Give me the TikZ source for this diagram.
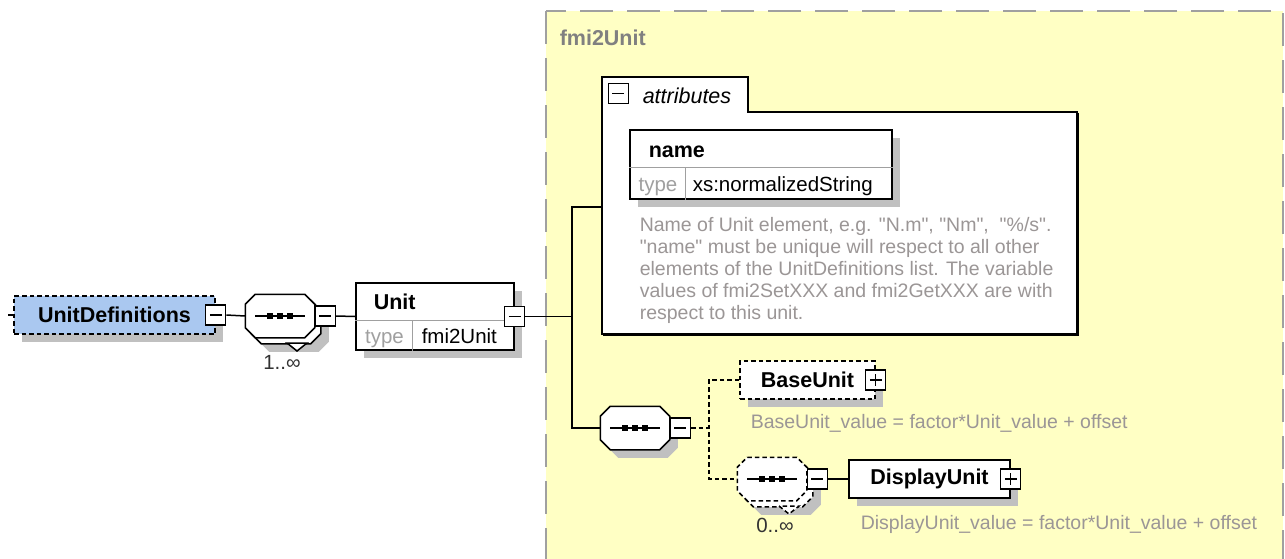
\documentclass[tikz,border=0pt]{standalone}
\usepackage{fontspec}
\setmainfont{Liberation Sans}[Ligatures=TeXOff]
\usepackage{tikz}
\usetikzlibrary{calc,shadows}

\definecolor{ybg}{RGB}{255,255,196}
\definecolor{udblue}{RGB}{170,200,240}
\definecolor{shadowgray}{RGB}{192,192,192}
\definecolor{docgray}{RGB}{155,150,150}
\definecolor{lblgray}{RGB}{128,128,128}
\definecolor{boxgray}{RGB}{160,160,160}

\newcommand{\elemfont}{\fontsize{21.5}{24}\selectfont\bfseries}
\newcommand{\typefont}{\fontsize{20.5}{23}\selectfont}
\newcommand{\docfont}{\fontsize{19.5}{22}\selectfont}

% compositor outline round a node
\newcommand{\octo}[2][]{%
  \draw[fill=white,#1] ($(#2.north west)+(10,0)$) -- ($(#2.north east)+(-10,0)$)
    -- ($(#2.north east)+(0,10)$) -- ($(#2.south east)+(0,-10)$)
    -- ($(#2.south east)+(-10,0)$) -- ($(#2.south west)+(10,0)$)
    -- ($(#2.south west)+(0,-10)$) -- ($(#2.north west)+(0,10)$) -- cycle;}
\newcommand{\seqdots}[1]{%
  \draw ($(#1.center)+(-25,0)$) -- ($(#1.center)+(25,0)$);
  \fill ($(#1.center)+(-13,-3)$) rectangle +(6,6);
  \fill ($(#1.center)+(-3,-3)$) rectangle +(6,6);
  \fill ($(#1.center)+(7,-3)$) rectangle +(6,6);}

\begin{document}
\begin{tikzpicture}[x=1pt,y=-1pt,line width=1.5pt,
    shadowed/.style={drop shadow={shadow xshift=8pt,shadow yshift=-8pt,fill=shadowgray,opacity=1}},
    dashes/.style={dash pattern=on 4.5pt off 3pt},
    elembox/.style={draw,fill=white,shadowed,minimum height=38pt,inner sep=0pt},
    seqpos/.style={minimum width=68pt,minimum height=42pt,inner sep=0pt},
    minusbox/.style={draw,solid,fill=white,minimum size=20pt,inner sep=0pt,line width=1.3pt,
      path picture={\draw[solid] ($(path picture bounding box.west)+(4,0)$) -- ($(path picture bounding box.east)+(-4,0)$);}},
    plusbox/.style={minusbox,
      path picture={\draw[solid] ($(path picture bounding box.west)+(4,0)$) -- ($(path picture bounding box.east)+(-4,0)$);
        \draw[solid] ($(path picture bounding box.north)+(0,4)$) -- ($(path picture bounding box.south)+(0,-4)$);}},
    doc/.style={font=\docfont,text=docgray,inner sep=0pt}
  ]
  \useasboundingbox[fill=white] (0,0) rectangle (1285,558);

  % complex type area
  \draw[boxgray,line width=2pt,dash pattern=on 33pt off 14pt,fill=ybg] (546,11) rectangle (1283,600);
  \node[anchor=base west,font=\elemfont,text=lblgray,inner sep=0pt] (typelbl) at (559,45) {fmi2Unit};

  % attributes
  \draw[fill=white] (602,77) -- (748,77) -- (748,112) -- (1077,112) -- (1077,334) -- (602,334) -- cycle;
  \draw[line width=1pt] (1078.5,113) -- (1078.5,335.5) -- (603,335.5);
  \node[minusbox,line width=1pt] (attrm) at (618,93) {};
  \node[anchor=base west,font=\fontsize{21.5}{24}\selectfont\itshape,inner sep=0pt] (attrlbl) at (642,103) {attributes};
  \coordinate (attrin) at (602,207);

  \node[elembox,minimum width=262pt,minimum height=69pt] (name) at (761,164.5) {};
  \draw[boxgray,line width=1pt] ($(name.north west)+(0,38)$) -- ($(name.north east)+(0,38)$);
  \draw[boxgray,line width=1pt] ($(name.north west)+(56,38)$) -- ($(name.south west)+(56,0)$);
  \node[anchor=base west,font=\elemfont,inner sep=0pt] (namelbl) at (648,157) {name};
  \node[anchor=base,font=\typefont,text=boxgray,inner sep=0pt] (nametyp) at (658,191) {type};
  \node[anchor=base west,font=\typefont,inner sep=0pt] (nameval) at (692,191) {xs:normalizedString};
  \node[doc,anchor=north west,align=left] (namedoc) at (639,217)
    {Name of Unit element, e.g. "N.m", "Nm",\ \ "\%/s".\\
     "name" must be unique will respect to all other\\
     elements of the UnitDefinitions list. The variable\\
     values of fmi2SetXXX and fmi2GetXXX are with\\
     respect to this unit.};

  % main row
  \coordinate (udin) at (8,315);
  \node[elembox,dashes,fill=udblue,minimum width=201pt,font=\elemfont] (ud) at (114.5,315) {UnitDefinitions};
  \node[minusbox] (udm) at (ud.east) {};

  \node[seqpos] (seq1b) at (286,322) {};
  \node[seqpos] (seq1) at (280,316) {};
  \octo[shadowed]{seq1b}
  \octo{seq1}
  \seqdots{seq1}
  \draw[fill=white] ($(seq1)+(7,27)$) -- ($(seq1)+(17,35)$) -- ($(seq1)+(27,27)$) -- cycle;
  \node[minusbox,anchor=west] (seq1m) at (seq1.east) {};
  \node[font=\typefont,text=black!80] (seq1card) at (282,362) {1..∞};

  \node[elembox,minimum width=158pt,minimum height=67pt] (unit) at (435,316.5) {};
  \draw[boxgray,line width=1pt] ($(unit.north west)+(0,38)$) -- ($(unit.north east)+(0,38)$);
  \draw[boxgray,line width=1pt] ($(unit.north west)+(57,38)$) -- ($(unit.south west)+(57,0)$);
  \node[anchor=base west,font=\elemfont,inner sep=0pt] (unitlbl) at (373,309) {Unit};
  \node[anchor=base,font=\typefont,text=boxgray,inner sep=0pt] (unittyp) at (384.5,343) {type};
  \node[anchor=base west,font=\typefont,inner sep=0pt] (unitval) at (421,343) {fmi2Unit};
  \node[minusbox] (unitm) at (unit.east) {};

  % content model
  \coordinate (jtop) at (572,207);
  \coordinate (jbot) at (572,428);
  \node[seqpos] (seq2) at (635,428) {};
  \octo[shadowed]{seq2}
  \seqdots{seq2}
  \node[minusbox,anchor=west] (seq2m) at (seq2.east) {};
  \coordinate (jdtop) at (709,380);
  \coordinate (jdbot) at (709,479);

  \node[elembox,dashes,minimum width=135pt,font=\elemfont] (bu) at (807.5,380) {BaseUnit};
  \node[plusbox] (bum) at (bu.east) {};
  \node[doc,anchor=base west] (budoc) at (750,428) {BaseUnit\_value = factor*Unit\_value + offset};

  \node[seqpos] (seq3b) at (778,485) {};
  \node[seqpos] (seq3) at (772,479) {};
  \octo[shadowed,dashes]{seq3b}
  \octo[dashes]{seq3}
  \seqdots{seq3}
  \draw[dashes,fill=white] ($(seq3)+(7,27)$) -- ($(seq3)+(17,35)$) -- ($(seq3)+(27,27)$) -- cycle;
  \node[minusbox,anchor=west] (seq3m) at (seq3.east) {};
  \node[font=\typefont,text=black!80] (seq3card) at (775,525) {0..∞};

  \node[elembox,minimum width=161pt,font=\elemfont] (du) at (929.5,479) {DisplayUnit};
  \node[plusbox] (dum) at (du.east) {};
  \node[doc,anchor=base west] (dudoc) at (860,529) {DisplayUnit\_value = factor*Unit\_value + offset};

  % connectors
  \draw (udin) -- (ud.west);
  \draw (udm.east) -- (seq1.west);
  \draw (seq1m.east) -- (unit.west);
  \draw (unitm.east) -- (unitm.east -| jtop);
  \draw (attrin) -- (jtop) -- (jbot) -- (seq2.west);
  \draw[dashes] (seq2m.east) -- (seq2m.east -| jdtop);
  \draw[dashes] (bu.west) -- (jdtop) -- (jdbot) -- (seq3.west);
  \draw (seq3m.east) -- (du.west);
\end{tikzpicture}
\end{document}
